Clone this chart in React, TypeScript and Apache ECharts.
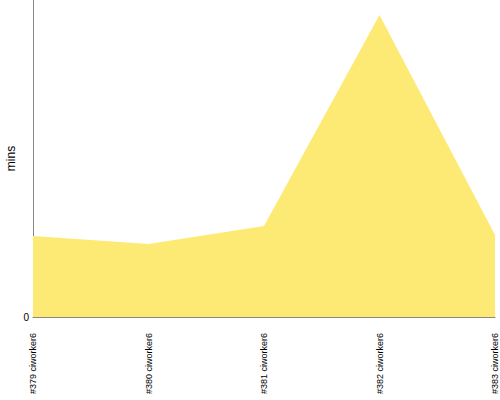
import React, { useEffect, useRef } from "react";
import * as echarts from "echarts";

const categories = ["#379 ciworker6", "#380 ciworker6", "#381 ciworker6", "#382 ciworker6", "#383 ciworker6"];
const values = [8.1, 7.3, 9.1, 30.2, 8.2];
const yAxisName = "mins";
const yMax = 31.7;

export default function App() {
  const ref = useRef<HTMLDivElement>(null);
  useEffect(() => {
    const chart = echarts.init(ref.current!, undefined, { renderer: "svg" });
    chart.setOption({
      animation: false,
      grid: { left: 33, right: 5, top: 0, bottom: 83, containLabel: false, outerBoundsMode: "none" },
      xAxis: {
        type: "category",
        data: categories,
        boundaryGap: false,
        axisLine: { lineStyle: { color: "#888" } },
        axisTick: { show: false },
        axisLabel: {
          rotate: 90,
          margin: 16,
          fontSize: 9,
          color: "#000",
          fontFamily: "Liberation Sans, Arial, sans-serif",
          interval: 0,
        },
      },
      yAxis: {
        type: "value",
        min: 0,
        max: yMax,
        interval: yMax,
        name: yAxisName,
        nameLocation: "middle",
        nameGap: 16,
        nameMoveOverlap: false,
        nameTextStyle: { fontSize: 12, color: "#000", fontFamily: "Liberation Sans, Arial, sans-serif" },
        axisLine: { show: true, lineStyle: { color: "#888" } },
        axisTick: { show: false },
        splitLine: { show: false },
        axisLabel: {
          showMaxLabel: false,
          margin: 4,
          fontSize: 10,
          color: "#000",
          fontFamily: "Liberation Sans, Arial, sans-serif",
        },
      },
      series: [
        {
          type: "line",
          data: values,
          showSymbol: false,
          lineStyle: { width: 0 },
          areaStyle: { color: "#fdea74", opacity: 1 },
        },
      ],
    });
    return () => chart.dispose();
  }, []);
  return <div ref={ref} style={{ width: 500, height: 400, position: "absolute", left: 0, top: 0 }} />;
}
